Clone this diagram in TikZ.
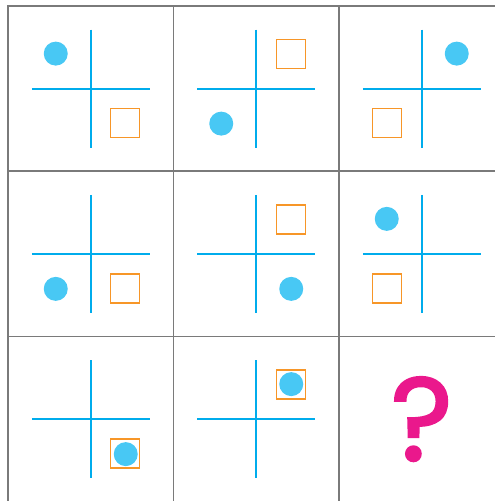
\documentclass[tikz,border=0pt]{standalone}
\usepackage{fontspec}
\usetikzlibrary{calc,positioning}
\newfontfamily\askfont{Poppins}[FakeBold=2]
\definecolor{GridGray}{RGB}{122,122,122}
\definecolor{CrossBlue}{RGB}{0,172,236}
\definecolor{DotBlue}{RGB}{72,200,244}
\definecolor{BoxOrange}{RGB}{247,150,40}
\definecolor{AskPink}{RGB}{234,24,140}

\tikzset{
  cell/.style={draw=GridGray,line width=1.5pt,minimum width=165.5pt,minimum height=165.25pt,inner sep=0pt},
  crossline/.style={CrossBlue,line width=2pt},
  dotmark/.style={circle,fill=DotBlue,minimum size=24pt,inner sep=0pt},
  boxmark/.style={draw=BoxOrange,line width=1.4pt,minimum size=29pt,inner sep=0pt},
  asktext/.style={text=AskPink,font=\askfont\fontsize{118}{118}\selectfont,inner sep=0pt}
}

\begin{document}
\begin{tikzpicture}[x=1pt,y=-1pt]
  \useasboundingbox (0,0) rectangle (495,501);
  % the nine cells
  \foreach \r in {0,1,2} {
    \foreach \c in {0,1,2} {
      \node[cell] (c\r\c) at (90.75+165.5*\c,88.6+165.25*\r) {};
    }
  }
  % crosses, squares and dots
  \foreach \r/\c/\dx/\dy/\sx/\sy in {
    0/0/-1/-1/1/1, 0/1/-1/1/1/-1, 0/2/1/-1/-1/1,
    1/0/-1/1/1/1,  1/1/1/1/1/-1,  1/2/-1/-1/-1/1,
    2/0/1/1/1/1,   2/1/1/-1/1/-1
  } {
    \draw[crossline] ($(c\r\c)+(-59,0)$) -- ($(c\r\c)+(59,0)$);
    \draw[crossline] ($(c\r\c)+(0,-59)$) -- ($(c\r\c)+(0,59)$);
    \node[boxmark] (b\r\c) at ($(c\r\c)+(34.5*\sx,34.5*\sy)$) {};
    \node[dotmark] (d\r\c) at ($(c\r\c)+(35*\dx,35*\dy)$) {};
  }
  % the missing one
  \node[asktext] (ask) at ($(c22)+(0,0)$) {?};
\end{tikzpicture}
\end{document}
